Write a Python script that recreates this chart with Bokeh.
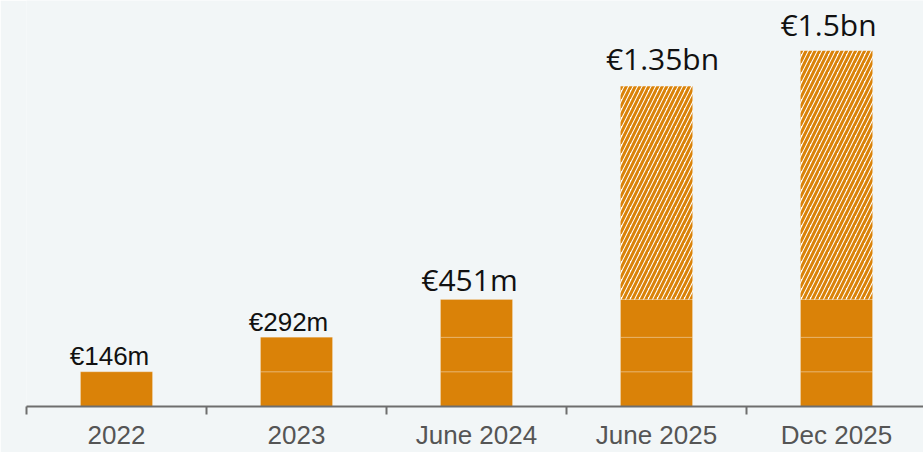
from bokeh.plotting import figure
from bokeh.models import FixedTicker, Range1d
from bokeh.core.properties import value
from bokeh.embed import file_html
from bokeh.resources import INLINE

# ---- data ----
categories = ["2022", "2023", "June 2024", "June 2025", "Dec 2025"]
total_values = [146, 292, 451, 1350, 1500]          # € millions (label value / bar height)
confirmed_values = [146, 292, 451, 451, 451]        # solid part of each bar
milestones = [0, 146, 292, 451]                     # inner segment boundaries
value_labels = ["€146m", "€292m", "€451m", "€1.35bn", "€1.5bn"]

# ---- styles ----
BG = "#f2f6f7"
ORANGE = "#da8208"
label_dx = [-7, -8, -7, 6, -8]
label_dy = [6, 5, 10, 18, 16]
label_big = [False, False, True, True, True]

n = len(categories)
centers = [i + 0.5 for i in range(n)]

p = figure(width=923, height=452, output_backend="svg", toolbar_location=None,
           x_range=Range1d(0, 897 / 180), y_range=Range1d(0, 407 / 0.2378),
           background_fill_color=BG, border_fill_color=BG,
           min_border_left=26, min_border_right=0, min_border_top=0, min_border_bottom=45)
p.outline_line_color = None
p.grid.visible = False
p.yaxis.visible = False

# solid stacked segments
seg_x, seg_b, seg_t = [], [], []
for i in range(n):
    for lo, hi in zip(milestones[:-1], milestones[1:]):
        top = min(hi, confirmed_values[i])
        if top > lo:
            seg_x.append(centers[i]); seg_b.append(lo); seg_t.append(top)
p.vbar(x=seg_x, bottom=seg_b, top=seg_t, width=0.4, fill_color=ORANGE,
       line_color="#ffffff", line_alpha=0.2, line_width=1)

# hatched (projected) part
hx, hb, ht = [], [], []
for i in range(n):
    if total_values[i] > confirmed_values[i]:
        hx.append(centers[i]); hb.append(confirmed_values[i]); ht.append(total_values[i])
p.vbar(x=hx, bottom=hb, top=ht, width=0.4, fill_color="#ffffff",
       hatch_pattern="/", hatch_color=ORANGE, hatch_scale=9, hatch_weight=3.0,
       line_color=None)

# value labels
for i in range(n):
    big = label_big[i]
    p.text(x=[centers[i]], y=[total_values[i]], text=[value_labels[i]],
           x_offset=label_dx[i], y_offset=-label_dy[i] - 10,
           text_align="center", text_baseline="alphabetic",
           text_font=value("Open Sans" if big else "Liberation Sans"),
           text_font_size="30px" if big else "26px",
           text_font_style="normal", text_color="#111111")

# x axis: ticks at category boundaries, labels at centres
ax = p.xaxis[0]
ax.ticker = FixedTicker(ticks=centers, minor_ticks=list(range(n + 1)))
ax.major_label_overrides = {c: lab for c, lab in zip(centers, categories)}
ax.major_tick_out = 0
ax.major_tick_in = 0
ax.minor_tick_out = 8
ax.minor_tick_in = 0
ax.minor_tick_line_color = "#6e6e6e"
ax.minor_tick_line_width = 2
ax.axis_line_color = "#6e6e6e"
ax.axis_line_width = 2
ax.major_label_text_font = "Liberation Sans"
ax.major_label_text_font_size = "26px"
ax.major_label_text_color = "#555555"
ax.major_label_standoff = 5

open("out.html", "w").write(file_html(p, INLINE))
